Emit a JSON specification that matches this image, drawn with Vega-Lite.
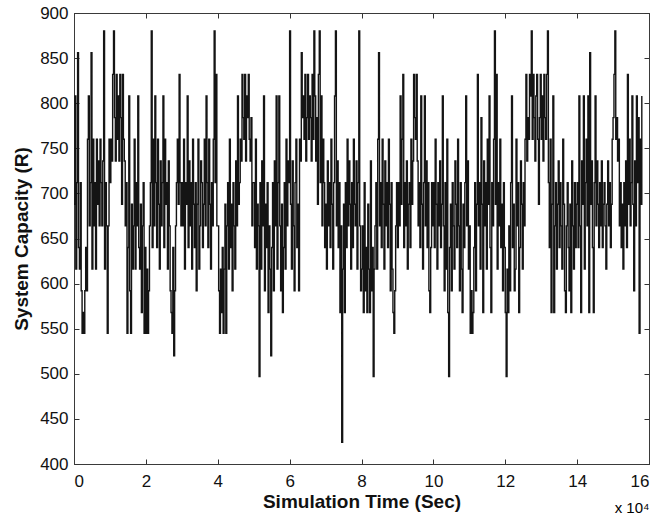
{
 "$schema": "https://vega.github.io/schema/vega-lite/v6.json",
 "width": 575,
 "height": 451,
 "autosize": "none",
 "padding": {"left": 74, "top": 13, "right": 22, "bottom": 54},
 "background": "white",
 "config": {"view": {"stroke": "#3a3a3a", "strokeWidth": 1}, "font": "Liberation Sans"},
 "title": {"text": "x 10⁴", "orient": "bottom", "anchor": "end", "fontSize": 15, "fontWeight": "normal", "font": "Liberation Sans", "color": "#000", "offset": -10},
 "datasets": {"cap": [
{"t":0,"c":688},{"t":250,"c":808},{"t":500,"c":616},{"t":750,"c":712},{"t":1000,"c":856},{"t":1250,"c":640},{"t":1500,"c":616},{"t":1750,"c":712},{"t":2000,"c":592},{"t":2250,"c":545},
{"t":2500,"c":568},{"t":2750,"c":545},{"t":3000,"c":592},{"t":3250,"c":640},{"t":3500,"c":592},{"t":3750,"c":760},{"t":4000,"c":808},{"t":4250,"c":664},{"t":4500,"c":712},{"t":4750,"c":856},
{"t":5000,"c":616},{"t":5250,"c":760},{"t":5500,"c":664},{"t":5750,"c":712},{"t":6000,"c":616},{"t":6250,"c":760},{"t":6500,"c":688},{"t":6750,"c":736},{"t":7000,"c":664},{"t":7250,"c":760},
{"t":7500,"c":712},{"t":7750,"c":664},{"t":8000,"c":736},{"t":8250,"c":880},{"t":8500,"c":616},{"t":8750,"c":712},{"t":9000,"c":664},{"t":9250,"c":545},{"t":9500,"c":664},{"t":9750,"c":760},
{"t":10000,"c":712},{"t":10250,"c":760},{"t":10500,"c":736},{"t":10750,"c":832},{"t":11000,"c":880},{"t":11250,"c":784},{"t":11500,"c":736},{"t":11750,"c":832},{"t":12000,"c":760},{"t":12250,"c":808},
{"t":12500,"c":736},{"t":12750,"c":832},{"t":13000,"c":784},{"t":13250,"c":688},{"t":13500,"c":832},{"t":13750,"c":760},{"t":14000,"c":736},{"t":14250,"c":664},{"t":14500,"c":712},{"t":14750,"c":545},
{"t":15000,"c":640},{"t":15250,"c":808},{"t":15500,"c":592},{"t":15750,"c":545},{"t":16000,"c":688},{"t":16250,"c":616},{"t":16500,"c":664},{"t":16750,"c":760},{"t":17000,"c":616},{"t":17250,"c":712},
{"t":17500,"c":664},{"t":17750,"c":808},{"t":18000,"c":640},{"t":18250,"c":616},{"t":18500,"c":688},{"t":18750,"c":568},{"t":19000,"c":664},{"t":19250,"c":712},{"t":19500,"c":545},{"t":19750,"c":640},
{"t":20000,"c":545},{"t":20250,"c":616},{"t":20500,"c":545},{"t":20750,"c":592},{"t":21000,"c":664},{"t":21250,"c":712},{"t":21500,"c":880},{"t":21750,"c":640},{"t":22000,"c":760},{"t":22250,"c":664},
{"t":22500,"c":808},{"t":22750,"c":712},{"t":23000,"c":640},{"t":23250,"c":760},{"t":23500,"c":688},{"t":23750,"c":616},{"t":24000,"c":736},{"t":24250,"c":664},{"t":24500,"c":712},{"t":24750,"c":808},
{"t":25000,"c":640},{"t":25250,"c":760},{"t":25500,"c":688},{"t":25750,"c":712},{"t":26000,"c":616},{"t":26250,"c":736},{"t":26500,"c":664},{"t":26750,"c":592},{"t":27000,"c":568},{"t":27250,"c":545},
{"t":27500,"c":640},{"t":27750,"c":520},{"t":28000,"c":592},{"t":28250,"c":664},{"t":28500,"c":712},{"t":28750,"c":760},{"t":29000,"c":688},{"t":29250,"c":832},{"t":29500,"c":712},{"t":29750,"c":664},
{"t":30000,"c":712},{"t":30250,"c":664},{"t":30500,"c":760},{"t":30750,"c":616},{"t":31000,"c":712},{"t":31250,"c":688},{"t":31500,"c":808},{"t":31750,"c":640},{"t":32000,"c":736},{"t":32250,"c":664},
{"t":32500,"c":712},{"t":32750,"c":616},{"t":33000,"c":760},{"t":33250,"c":688},{"t":33500,"c":640},{"t":33750,"c":712},{"t":34000,"c":592},{"t":34250,"c":688},{"t":34500,"c":760},{"t":34750,"c":616},
{"t":35000,"c":664},{"t":35250,"c":736},{"t":35500,"c":712},{"t":35750,"c":640},{"t":36000,"c":688},{"t":36250,"c":760},{"t":36500,"c":664},{"t":36750,"c":808},{"t":37000,"c":712},{"t":37250,"c":640},
{"t":37500,"c":760},{"t":37750,"c":688},{"t":38000,"c":616},{"t":38250,"c":712},{"t":38500,"c":664},{"t":38750,"c":760},{"t":39000,"c":880},{"t":39250,"c":712},{"t":39500,"c":832},{"t":39750,"c":664},
{"t":40000,"c":664},{"t":40250,"c":592},{"t":40500,"c":545},{"t":40750,"c":616},{"t":41000,"c":568},{"t":41250,"c":640},{"t":41500,"c":545},{"t":41750,"c":616},{"t":42000,"c":688},{"t":42250,"c":545},
{"t":42500,"c":664},{"t":42750,"c":712},{"t":43000,"c":616},{"t":43250,"c":760},{"t":43500,"c":640},{"t":43750,"c":688},{"t":44000,"c":592},{"t":44250,"c":712},{"t":44500,"c":664},{"t":44750,"c":616},
{"t":45000,"c":736},{"t":45250,"c":664},{"t":45500,"c":808},{"t":45750,"c":688},{"t":46000,"c":712},{"t":46250,"c":760},{"t":46500,"c":736},{"t":46750,"c":832},{"t":47000,"c":784},{"t":47250,"c":760},
{"t":47500,"c":832},{"t":47750,"c":736},{"t":48000,"c":808},{"t":48250,"c":784},{"t":48500,"c":832},{"t":48750,"c":760},{"t":49000,"c":736},{"t":49250,"c":784},{"t":49500,"c":664},{"t":49750,"c":712},
{"t":50000,"c":712},{"t":50250,"c":640},{"t":50500,"c":760},{"t":50750,"c":616},{"t":51000,"c":688},{"t":51250,"c":664},{"t":51500,"c":497},{"t":51750,"c":712},{"t":52000,"c":616},{"t":52250,"c":736},
{"t":52500,"c":664},{"t":52750,"c":808},{"t":53000,"c":592},{"t":53250,"c":688},{"t":53500,"c":640},{"t":53750,"c":712},{"t":54000,"c":568},{"t":54250,"c":664},{"t":54500,"c":616},{"t":54750,"c":520},
{"t":55000,"c":640},{"t":55250,"c":712},{"t":55500,"c":592},{"t":55750,"c":736},{"t":56000,"c":664},{"t":56250,"c":808},{"t":56500,"c":616},{"t":56750,"c":712},{"t":57000,"c":808},{"t":57250,"c":664},
{"t":57500,"c":592},{"t":57750,"c":688},{"t":58000,"c":568},{"t":58250,"c":640},{"t":58500,"c":712},{"t":58750,"c":616},{"t":59000,"c":760},{"t":59250,"c":664},{"t":59500,"c":736},{"t":59750,"c":712},
{"t":60000,"c":880},{"t":60250,"c":688},{"t":60500,"c":616},{"t":60750,"c":736},{"t":61000,"c":664},{"t":61250,"c":592},{"t":61500,"c":712},{"t":61750,"c":760},{"t":62000,"c":640},{"t":62250,"c":688},
{"t":62500,"c":592},{"t":62750,"c":760},{"t":63000,"c":736},{"t":63250,"c":856},{"t":63500,"c":784},{"t":63750,"c":808},{"t":64000,"c":760},{"t":64250,"c":832},{"t":64500,"c":736},{"t":64750,"c":784},
{"t":65000,"c":832},{"t":65250,"c":760},{"t":65500,"c":808},{"t":65750,"c":784},{"t":66000,"c":736},{"t":66250,"c":832},{"t":66500,"c":760},{"t":66750,"c":880},{"t":67000,"c":808},{"t":67250,"c":736},
{"t":67500,"c":784},{"t":67750,"c":688},{"t":68000,"c":832},{"t":68250,"c":880},{"t":68500,"c":712},{"t":68750,"c":808},{"t":69000,"c":664},{"t":69250,"c":760},{"t":69500,"c":712},{"t":69750,"c":640},
{"t":70000,"c":688},{"t":70250,"c":616},{"t":70500,"c":736},{"t":70750,"c":664},{"t":71000,"c":712},{"t":71250,"c":640},{"t":71500,"c":760},{"t":71750,"c":688},{"t":72000,"c":616},{"t":72250,"c":712},
{"t":72500,"c":808},{"t":72750,"c":880},{"t":73000,"c":664},{"t":73250,"c":736},{"t":73500,"c":640},{"t":73750,"c":712},{"t":74000,"c":568},{"t":74250,"c":664},{"t":74500,"c":424},{"t":74750,"c":616},
{"t":75000,"c":688},{"t":75250,"c":568},{"t":75500,"c":712},{"t":75750,"c":640},{"t":76000,"c":760},{"t":76250,"c":664},{"t":76500,"c":736},{"t":76750,"c":688},{"t":77000,"c":616},{"t":77250,"c":712},
{"t":77500,"c":640},{"t":77750,"c":760},{"t":78000,"c":688},{"t":78250,"c":664},{"t":78500,"c":736},{"t":78750,"c":616},{"t":79000,"c":712},{"t":79250,"c":880},{"t":79500,"c":664},{"t":79750,"c":592},
{"t":80000,"c":616},{"t":80250,"c":664},{"t":80500,"c":568},{"t":80750,"c":712},{"t":81000,"c":592},{"t":81250,"c":640},{"t":81500,"c":568},{"t":81750,"c":688},{"t":82000,"c":616},{"t":82250,"c":568},
{"t":82500,"c":736},{"t":82750,"c":592},{"t":83000,"c":640},{"t":83250,"c":497},{"t":83500,"c":616},{"t":83750,"c":664},{"t":84000,"c":712},{"t":84250,"c":616},{"t":84500,"c":760},{"t":84750,"c":856},
{"t":85000,"c":664},{"t":85250,"c":712},{"t":85500,"c":640},{"t":85750,"c":760},{"t":86000,"c":688},{"t":86250,"c":616},{"t":86500,"c":736},{"t":86750,"c":664},{"t":87000,"c":712},{"t":87250,"c":640},
{"t":87500,"c":760},{"t":87750,"c":688},{"t":88000,"c":592},{"t":88250,"c":712},{"t":88500,"c":616},{"t":88750,"c":568},{"t":89000,"c":545},{"t":89250,"c":592},{"t":89500,"c":664},{"t":89750,"c":712},
{"t":90000,"c":640},{"t":90250,"c":712},{"t":90500,"c":664},{"t":90750,"c":808},{"t":91000,"c":688},{"t":91250,"c":760},{"t":91500,"c":832},{"t":91750,"c":640},{"t":92000,"c":712},{"t":92250,"c":664},
{"t":92500,"c":736},{"t":92750,"c":616},{"t":93000,"c":688},{"t":93250,"c":712},{"t":93500,"c":640},{"t":93750,"c":760},{"t":94000,"c":688},{"t":94250,"c":736},{"t":94500,"c":832},{"t":94750,"c":784},
{"t":95000,"c":760},{"t":95250,"c":832},{"t":95500,"c":736},{"t":95750,"c":664},{"t":96000,"c":712},{"t":96250,"c":640},{"t":96500,"c":808},{"t":96750,"c":688},{"t":97000,"c":616},{"t":97250,"c":712},
{"t":97500,"c":808},{"t":97750,"c":664},{"t":98000,"c":736},{"t":98250,"c":640},{"t":98500,"c":712},{"t":98750,"c":592},{"t":99000,"c":568},{"t":99250,"c":640},{"t":99500,"c":712},{"t":99750,"c":664},
{"t":100000,"c":712},{"t":100250,"c":640},{"t":100500,"c":760},{"t":100750,"c":688},{"t":101000,"c":616},{"t":101250,"c":712},{"t":101500,"c":664},{"t":101750,"c":736},{"t":102000,"c":640},{"t":102250,"c":688},
{"t":102500,"c":808},{"t":102750,"c":664},{"t":103000,"c":592},{"t":103250,"c":712},{"t":103500,"c":616},{"t":103750,"c":760},{"t":104000,"c":568},{"t":104250,"c":497},{"t":104500,"c":640},{"t":104750,"c":688},
{"t":105000,"c":592},{"t":105250,"c":712},{"t":105500,"c":664},{"t":105750,"c":616},{"t":106000,"c":736},{"t":106250,"c":688},{"t":106500,"c":640},{"t":106750,"c":760},{"t":107000,"c":664},{"t":107250,"c":592},
{"t":107500,"c":712},{"t":107750,"c":616},{"t":108000,"c":568},{"t":108250,"c":688},{"t":108500,"c":640},{"t":108750,"c":712},{"t":109000,"c":808},{"t":109250,"c":664},{"t":109500,"c":736},{"t":109750,"c":616},
{"t":110000,"c":664},{"t":110250,"c":545},{"t":110500,"c":592},{"t":110750,"c":545},{"t":111000,"c":568},{"t":111250,"c":640},{"t":111500,"c":712},{"t":111750,"c":592},{"t":112000,"c":688},{"t":112250,"c":832},
{"t":112500,"c":664},{"t":112750,"c":712},{"t":113000,"c":616},{"t":113250,"c":784},{"t":113500,"c":688},{"t":113750,"c":568},{"t":114000,"c":736},{"t":114250,"c":664},{"t":114500,"c":712},{"t":114750,"c":616},
{"t":115000,"c":760},{"t":115250,"c":688},{"t":115500,"c":808},{"t":115750,"c":640},{"t":116000,"c":568},{"t":116250,"c":712},{"t":116500,"c":664},{"t":116750,"c":760},{"t":117000,"c":880},{"t":117250,"c":688},
{"t":117500,"c":832},{"t":117750,"c":616},{"t":118000,"c":712},{"t":118250,"c":664},{"t":118500,"c":760},{"t":118750,"c":640},{"t":119000,"c":688},{"t":119250,"c":592},{"t":119500,"c":712},{"t":119750,"c":640},
{"t":120000,"c":568},{"t":120250,"c":497},{"t":120500,"c":616},{"t":120750,"c":568},{"t":121000,"c":664},{"t":121250,"c":592},{"t":121500,"c":712},{"t":121750,"c":808},{"t":122000,"c":640},{"t":122250,"c":688},
{"t":122500,"c":592},{"t":122750,"c":616},{"t":123000,"c":760},{"t":123250,"c":664},{"t":123500,"c":712},{"t":123750,"c":568},{"t":124000,"c":640},{"t":124250,"c":736},{"t":124500,"c":688},{"t":124750,"c":616},
{"t":125000,"c":712},{"t":125250,"c":664},{"t":125500,"c":760},{"t":125750,"c":832},{"t":126000,"c":736},{"t":126250,"c":784},{"t":126500,"c":760},{"t":126750,"c":832},{"t":127000,"c":808},{"t":127250,"c":880},
{"t":127500,"c":760},{"t":127750,"c":832},{"t":128000,"c":784},{"t":128250,"c":736},{"t":128500,"c":808},{"t":128750,"c":832},{"t":129000,"c":760},{"t":129250,"c":688},{"t":129500,"c":784},{"t":129750,"c":832},
{"t":130000,"c":760},{"t":130250,"c":808},{"t":130500,"c":736},{"t":130750,"c":832},{"t":131000,"c":784},{"t":131250,"c":760},{"t":131500,"c":832},{"t":131750,"c":880},{"t":132000,"c":712},{"t":132250,"c":640},
{"t":132500,"c":760},{"t":132750,"c":568},{"t":133000,"c":688},{"t":133250,"c":808},{"t":133500,"c":568},{"t":133750,"c":664},{"t":134000,"c":712},{"t":134250,"c":616},{"t":134500,"c":688},{"t":134750,"c":736},
{"t":135000,"c":640},{"t":135250,"c":712},{"t":135500,"c":664},{"t":135750,"c":616},{"t":136000,"c":760},{"t":136250,"c":688},{"t":136500,"c":592},{"t":136750,"c":568},{"t":137000,"c":664},{"t":137250,"c":712},
{"t":137500,"c":640},{"t":137750,"c":592},{"t":138000,"c":688},{"t":138250,"c":568},{"t":138500,"c":736},{"t":138750,"c":664},{"t":139000,"c":616},{"t":139250,"c":712},{"t":139500,"c":640},{"t":139750,"c":688},
{"t":140000,"c":712},{"t":140250,"c":640},{"t":140500,"c":808},{"t":140750,"c":664},{"t":141000,"c":568},{"t":141250,"c":736},{"t":141500,"c":688},{"t":141750,"c":808},{"t":142000,"c":616},{"t":142250,"c":712},
{"t":142500,"c":760},{"t":142750,"c":664},{"t":143000,"c":808},{"t":143250,"c":568},{"t":143500,"c":856},{"t":143750,"c":688},{"t":144000,"c":736},{"t":144250,"c":640},{"t":144500,"c":568},{"t":144750,"c":712},
{"t":145000,"c":808},{"t":145250,"c":664},{"t":145500,"c":736},{"t":145750,"c":688},{"t":146000,"c":640},{"t":146250,"c":712},{"t":146500,"c":664},{"t":146750,"c":736},{"t":147000,"c":640},{"t":147250,"c":688},
{"t":147500,"c":712},{"t":147750,"c":664},{"t":148000,"c":616},{"t":148250,"c":688},{"t":148500,"c":736},{"t":148750,"c":664},{"t":149000,"c":712},{"t":149250,"c":640},{"t":149500,"c":688},{"t":149750,"c":760},
{"t":150000,"c":784},{"t":150250,"c":832},{"t":150500,"c":880},{"t":150750,"c":760},{"t":151000,"c":784},{"t":151250,"c":736},{"t":151500,"c":760},{"t":151750,"c":664},{"t":152000,"c":712},{"t":152250,"c":640},
{"t":152500,"c":688},{"t":152750,"c":616},{"t":153000,"c":712},{"t":153250,"c":664},{"t":153500,"c":736},{"t":153750,"c":640},{"t":154000,"c":832},{"t":154250,"c":688},{"t":154500,"c":760},{"t":154750,"c":664},
{"t":155000,"c":712},{"t":155250,"c":808},{"t":155500,"c":688},{"t":155750,"c":592},{"t":156000,"c":736},{"t":156250,"c":664},{"t":156500,"c":808},{"t":156750,"c":712},{"t":157000,"c":784},{"t":157250,"c":545},
{"t":157500,"c":760},{"t":157750,"c":688},{"t":158000,"c":808}
 ]},
 "data": {"name": "cap"},
 "resolve": {"axis": {"x": "independent", "y": "independent"}},
 "layer": [
  {
   "mark": {"type": "line", "interpolate": "step-after", "color": "#141414", "strokeWidth": 1.4},
   "encoding": {
    "x": {"field": "t", "type": "quantitative", "scale": {"domain": [0, 160000], "nice": false, "zero": false},
     "axis": {"orient": "bottom", "values": [0, 20000, 40000, 60000, 80000, 100000, 120000, 140000, 160000], "labelExpr": "datum.value / 10000", "grid": false, "tickSize": -5, "tickColor": "#333", "domainColor": "#3a3a3a", "labelFontSize": 17, "labelColor": "#111", "labelPadding": 14, "labelFont": "Liberation Sans", "title": "Simulation Time (Sec)", "titleFontSize": 19, "titleFontWeight": "bold", "titleFont": "Liberation Sans", "titleColor": "#111", "titlePadding": 3}},
    "y": {"field": "c", "type": "quantitative", "scale": {"domain": [400, 900], "nice": false, "zero": false},
     "axis": {"orient": "left", "values": [400, 450, 500, 550, 600, 650, 700, 750, 800, 850, 900], "grid": false, "tickSize": -5, "tickColor": "#333", "domainColor": "#3a3a3a", "labelFontSize": 17, "labelColor": "#111", "labelPadding": 11, "labelFont": "Liberation Sans", "title": "System Capacity (R)", "titleFontSize": 19, "titleFontWeight": "bold", "titleFont": "Liberation Sans", "titleColor": "#111", "titlePadding": 8}}
   }
  },
  {
   "mark": {"type": "point", "opacity": 0},
   "encoding": {
    "x": {"field": "t", "type": "quantitative", "axis": {"orient": "top", "values": [0, 20000, 40000, 60000, 80000, 100000, 120000, 140000, 160000], "labels": false, "grid": false, "tickSize": -5, "tickColor": "#333", "domainColor": "#3a3a3a", "title": null}},
    "y": {"field": "c", "type": "quantitative", "axis": {"orient": "right", "values": [400, 450, 500, 550, 600, 650, 700, 750, 800, 850, 900], "labels": false, "grid": false, "tickSize": -5, "tickColor": "#333", "domainColor": "#3a3a3a", "title": null}}
   }
  }
 ]
}
